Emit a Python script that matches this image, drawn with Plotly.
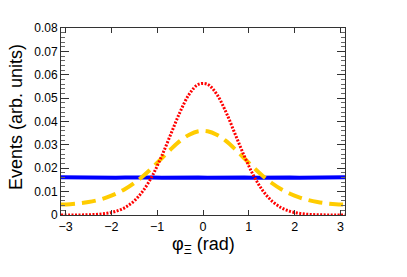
import plotly.graph_objects as go

phi = [-3.1, -2.9, -2.7, -2.5, -2.3, -2.1, -1.9, -1.7, -1.5, -1.3, -1.1, -0.9, -0.7, -0.5, -0.3, -0.1,
       0.1, 0.3, 0.5, 0.7, 0.9, 1.1, 1.3, 1.5, 1.7, 1.9, 2.1, 2.3, 2.5, 2.7, 2.9, 3.1]

red_vals = [0.0000, 0.0000, 0.00004, 0.00011, 0.00030, 0.00071, 0.00157, 0.00321, 0.00606, 0.01057,
            0.0170, 0.0253, 0.0347, 0.0441, 0.0517, 0.0559,
            0.0559, 0.0517, 0.0441, 0.0347, 0.0253, 0.0170, 0.01057, 0.00606, 0.00321, 0.00157,
            0.00071, 0.00030, 0.00011, 0.00004, 0.0000, 0.0000]

yellow_vals = [0.00450, 0.00463, 0.00497, 0.00553, 0.00636, 0.00753, 0.00909, 0.01112, 0.01369, 0.01680,
               0.02039, 0.02428, 0.02818, 0.03169, 0.03435, 0.0358,
               0.0358, 0.03435, 0.03169, 0.02818, 0.02428, 0.02039, 0.01680, 0.01369, 0.01112, 0.00909,
               0.00753, 0.00636, 0.00553, 0.00497, 0.00463, 0.00450]

blue_vals = [0.0161, 0.0160, 0.0159, 0.0161, 0.0160, 0.0160, 0.0159, 0.0160, 0.0161, 0.0160,
             0.0160, 0.0159, 0.0160, 0.0161, 0.0160, 0.0160,
             0.0159, 0.0160, 0.0161, 0.0160, 0.0160, 0.0159, 0.0160, 0.0161, 0.0160, 0.0160,
             0.0159, 0.0160, 0.0161, 0.0160, 0.0160, 0.0161]

x_ticks = [-3, -2, -1, 0, 1, 2, 3]
y_ticks = [0, 0.01, 0.02, 0.03, 0.04, 0.05, 0.06, 0.07, 0.08]

fig = go.Figure()
fig.add_trace(go.Scatter(x=phi, y=blue_vals, mode="lines",
                         line=dict(color="#0000ff", width=4), showlegend=False))
fig.add_trace(go.Scatter(x=phi, y=yellow_vals, mode="lines",
                         line=dict(color="#ffcc00", width=4, dash="14px,7px", shape="spline"),
                         showlegend=False))
fig.add_trace(go.Scatter(x=phi, y=red_vals, mode="lines",
                         line=dict(color="#ff0000", width=3, dash="2px,1.5px", shape="spline"),
                         showlegend=False))

font_family = "Liberation Sans, Arial, sans-serif"

# The page body has an 8px margin, so pixel targets are offset by 8.
ML, MR, MT, MB = 53, 70, 20, 70
W, H = 407, 277
plot_w = W - ML - MR
plot_h = H - MT - MB

fig.update_layout(
    width=W, height=H,
    margin=dict(l=ML, r=MR, t=MT, b=MB, autoexpand=False),
    paper_bgcolor="white", plot_bgcolor="white",
    font=dict(family=font_family, color="black", size=12),
    xaxis=dict(
        range=[-3.1, 3.1], tickvals=x_ticks, ticks="inside", ticklen=5, tickcolor="#333",
        mirror="allticks", showline=True, linecolor="#333", linewidth=1, showgrid=False,
        zeroline=False, tickfont=dict(size=12.5), automargin=False,
    ),
    yaxis=dict(
        range=[0, 0.08], tickvals=y_ticks, ticks="inside", ticklen=8, tickcolor="#333",
        mirror="allticks", showline=True, linecolor="#333", linewidth=1, showgrid=False,
        zeroline=False, tickfont=dict(size=12), automargin=False,
        minor=dict(dtick=0.002, ticks="inside", ticklen=4, tickcolor="#666", showgrid=False),
    ),
    annotations=[
        dict(text="φ<sub>Ξ</sub> (rad)", x=0.5, y=-(245 - 215) / plot_h,
             xref="paper", yref="paper",
             showarrow=False, font=dict(size=18), xanchor="center", yanchor="middle"),
        dict(text="Events (arb. units)", x=-(61 - 16) / plot_w, y=(215 - 117) / plot_h,
             xref="paper", yref="paper",
             showarrow=False, font=dict(size=18), textangle=-90,
             xanchor="center", yanchor="middle"),
    ],
)

fig.write_html("out.html")
